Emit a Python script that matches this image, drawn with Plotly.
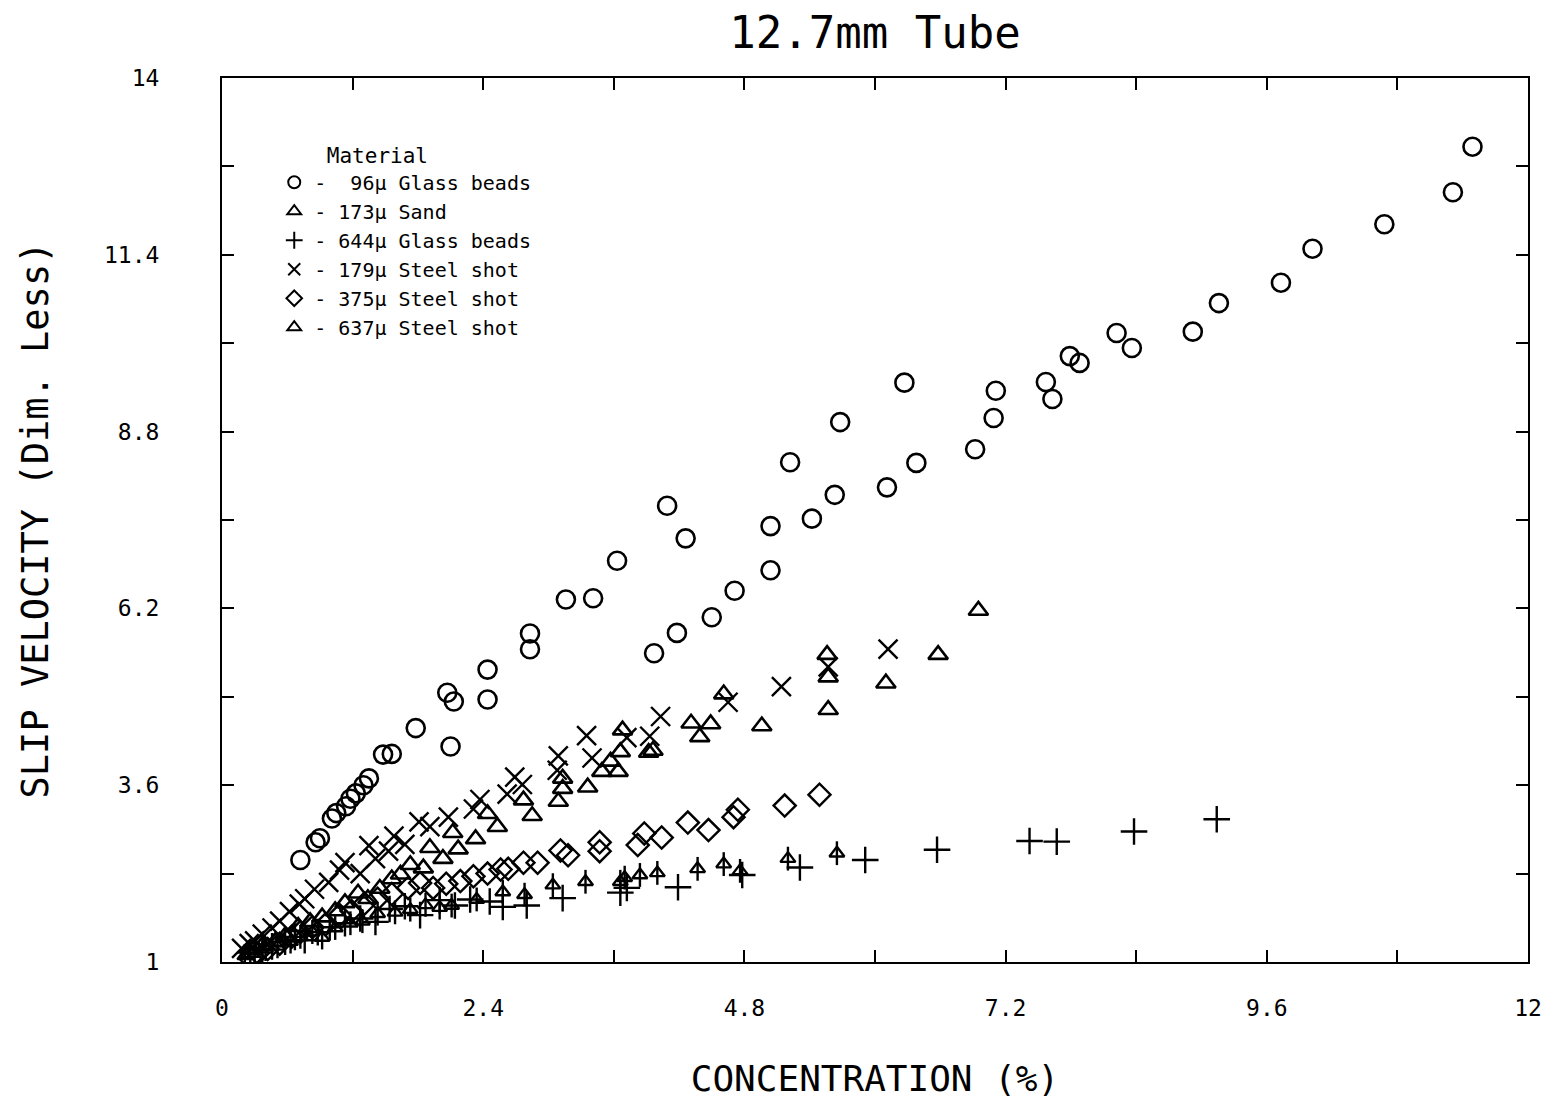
import plotly.graph_objects as go

# ---------------- data ----------------
# 96 micron glass beads (circles)
gb96_x = [0.72, 0.86, 0.90, 1.01, 1.05, 1.14, 1.18, 1.23, 1.30, 1.35, 1.48, 1.56, 1.78, 2.07, 2.13, 2.10,
          2.44, 2.44, 2.83, 2.83, 3.16, 3.41, 3.63, 4.09, 4.26, 3.97, 4.18, 4.50, 4.71, 5.04, 5.04, 5.22,
          5.42, 5.63, 5.68, 6.11, 6.27, 6.38, 6.92, 7.09, 7.11, 7.57, 7.63, 7.79, 7.88, 8.22, 8.36, 8.92,
          9.16, 9.73, 10.02, 10.68, 11.31, 11.49]
gb96_y = [2.50, 2.76, 2.82, 3.11, 3.19, 3.29, 3.40, 3.48, 3.60, 3.70, 4.05, 4.06, 4.44, 4.96, 4.83, 4.17,
          5.30, 4.86, 5.83, 5.60, 6.33, 6.35, 6.90, 7.71, 7.23, 5.54, 5.84, 6.07, 6.46, 6.76, 7.41, 8.35,
          7.52, 7.87, 8.94, 7.98, 9.52, 8.34, 8.54, 9.00, 9.40, 9.53, 9.28, 9.91, 9.81, 10.25, 10.03, 10.27,
          10.69, 10.99, 11.49, 11.85, 12.32, 12.99]

# 173 micron sand (triangles)
sand_x = [0.26, 0.37, 0.49, 0.58, 0.70, 0.81, 0.92, 1.04, 1.13, 1.25, 1.34, 1.45, 1.56, 1.64, 1.73, 1.85,
          1.91, 2.03, 2.12, 2.17, 2.33, 2.44, 2.53, 2.77, 2.85, 3.09, 3.13, 3.13, 3.36, 3.49, 3.57, 3.64,
          3.66, 3.68, 3.92, 3.96, 4.31, 4.39, 4.49, 4.61, 4.96, 5.56, 5.57, 5.57, 6.10, 6.58, 6.95]
sand_y = [1.14, 1.24, 1.30, 1.38, 1.52, 1.59, 1.66, 1.75, 1.87, 2.01, 1.93, 2.08, 2.22, 2.29, 2.43, 2.38,
          2.68, 2.52, 2.90, 2.66, 2.81, 3.18, 2.99, 3.38, 3.15, 3.36, 3.70, 3.55, 3.57, 3.80, 3.95, 3.80,
          4.09, 4.41, 4.08, 4.11, 4.51, 4.31, 4.50, 4.94, 4.47, 5.52, 5.19, 4.71, 5.10, 5.52, 6.17]

# 644 micron glass beads (plus)
gb644_x = [0.26, 0.37, 0.46, 0.58, 0.67, 0.76, 0.88, 0.99, 1.13, 1.27, 1.41, 1.54, 1.68, 1.82, 2.00, 2.14,
           2.28, 2.46, 2.58, 2.80, 3.13, 3.66, 3.72, 4.19, 4.78, 5.31, 5.91, 6.57, 7.42, 7.67, 8.38, 9.14]
gb644_y = [1.14, 1.19, 1.23, 1.30, 1.37, 1.32, 1.44, 1.51, 1.57, 1.64, 1.59, 1.78, 1.82, 1.69, 1.91, 1.83,
           1.92, 1.89, 1.81, 1.83, 1.94, 2.02, 2.09, 2.10, 2.28, 2.39, 2.50, 2.65, 2.78, 2.77, 2.92, 3.10]

# 179 micron steel shot (x)
ss179_x = [0.18, 0.25, 0.30, 0.37, 0.46, 0.53, 0.62, 0.71, 0.76, 0.85, 0.98, 1.08, 1.13, 1.27, 1.35, 1.41,
           1.53, 1.58, 1.68, 1.81, 1.91, 2.08, 2.31, 2.37, 2.62, 2.69, 2.76, 3.08, 3.09, 3.35, 3.40, 3.72,
           3.93, 4.03, 4.65, 5.14, 5.57, 6.12]
ss179_y = [1.20, 1.27, 1.31, 1.41, 1.50, 1.60, 1.74, 1.85, 1.93, 2.07, 2.17, 2.35, 2.46, 2.30, 2.71, 2.52,
           2.63, 2.85, 2.73, 3.06, 2.99, 3.13, 3.25, 3.39, 3.47, 3.72, 3.61, 3.82, 4.03, 4.33, 4.00, 4.30,
           4.32, 4.61, 4.82, 5.05, 5.34, 5.60]

# 375 micron steel shot (diamonds)
ss375_x = [0.26, 0.33, 0.42, 0.53, 0.64, 0.72, 0.83, 0.95, 1.08, 1.19, 1.31, 1.43, 1.56, 1.71, 1.82, 1.94,
           2.06, 2.19, 2.31, 2.44, 2.56, 2.63, 2.77, 2.90, 3.11, 3.18, 3.47, 3.47, 3.82, 3.88, 4.04, 4.28,
           4.47, 4.70, 4.74, 5.17, 5.49]
ss375_y = [1.05, 1.13, 1.19, 1.27, 1.37, 1.44, 1.51, 1.55, 1.69, 1.75, 1.86, 1.93, 2.00, 2.09, 2.16, 2.09,
           2.15, 2.19, 2.26, 2.30, 2.36, 2.37, 2.46, 2.46, 2.64, 2.57, 2.76, 2.63, 2.72, 2.89, 2.83, 3.05,
           2.94, 3.13, 3.24, 3.30, 3.46]

# 637 micron steel shot (arrow / umbrella)
ss637_x = [0.21, 0.30, 0.40, 0.51, 0.63, 0.72, 0.83, 0.92, 1.04, 1.18, 1.29, 1.43, 1.59, 1.73, 1.87, 2.00,
           2.11, 2.34, 2.58, 2.78, 3.04, 3.34, 3.66, 3.70, 3.84, 4.00, 4.37, 4.61, 4.76, 5.20, 5.65]
ss637_y = [1.09, 1.16, 1.19, 1.23, 1.30, 1.37, 1.44, 1.36, 1.50, 1.57, 1.60, 1.71, 1.73, 1.77, 1.84, 1.80,
           1.83, 1.92, 2.03, 1.99, 2.13, 2.18, 2.18, 2.24, 2.28, 2.31, 2.37, 2.44, 2.34, 2.52, 2.60]

legend_names = [
    "-\u00a0\u00a096\u00b5 Glass beads",
    "-\u00a0173\u00b5 Sand",
    "-\u00a0644\u00b5 Glass beads",
    "-\u00a0179\u00b5 Steel shot",
    "-\u00a0375\u00b5 Steel shot",
    "-\u00a0637\u00b5 Steel shot",
]

x_tick_vals = [0, 1.2, 2.4, 3.6, 4.8, 6.0, 7.2, 8.4, 9.6, 10.8, 12]
x_tick_text = ["0", "", "2.4", "", "4.8", "", "7.2", "", "9.6", "", "12"]
y_tick_vals = [1, 2.3, 3.6, 4.9, 6.2, 7.5, 8.8, 10.1, 11.4, 12.7, 14]
y_tick_text = ["1", "", "3.6", "", "6.2", "", "8.8", "", "11.4", "", "14"]

# ---------------- figure ----------------
MONO = "DejaVu Sans Mono"
INK = "black"

fig = go.Figure()

def add(xs, ys, name, symbol, size, lw, show=True, group=None):
    fig.add_trace(go.Scatter(
        x=xs, y=ys, mode="markers", name=name, showlegend=show,
        legendgroup=group or name,
        marker=dict(symbol=symbol, size=size, color=INK,
                    line=dict(color=INK, width=lw)),
    ))

add(gb96_x, gb96_y, legend_names[0], "circle-open", 18, 2.6)
add(sand_x, sand_y, legend_names[1], "triangle-up-open", 17, 2.6)
add(gb644_x, gb644_y, legend_names[2], "cross-thin-open", 19, 2.4)
add(ss179_x, ss179_y, legend_names[3], "x-thin-open", 19, 2.4)
add(ss375_x, ss375_y, legend_names[4], "diamond-open", 17, 2.4)
add(ss637_x, ss637_y, legend_names[5], "triangle-up-open", 13, 2.4, group="ss637")
add(ss637_x, ss637_y, "stem", "line-ns-open", 17, 2.4, show=False, group="ss637")

axis_common = dict(
    showline=True, linecolor=INK, linewidth=2, mirror="ticks",
    ticks="inside", ticklen=12, tickwidth=2, tickcolor=INK,
    showgrid=False, zeroline=False,
    tickfont=dict(family=MONO, size=23, color=INK),
    tickmode="array",
)

fig.update_layout(
    width=1558, height=1103,
    paper_bgcolor="white", plot_bgcolor="white",
    margin=dict(l=222, r=30, t=78, b=141, autoexpand=False),
    title=dict(text="12.7mm Tube", x=0.5, xanchor="center", xref="paper",
               y=0.97, yanchor="middle", yref="container",
               font=dict(family=MONO, size=44, color=INK)),
    xaxis=dict(range=[0, 12], tickvals=x_tick_vals, ticktext=x_tick_text,
               ticklabelstandoff=24,
               title=dict(text="CONCENTRATION (%)", standoff=46,
                          font=dict(family=MONO, size=36, color=INK)),
               **axis_common),
    yaxis=dict(range=[1, 14], tickvals=y_tick_vals, ticktext=y_tick_text,
               ticklabelstandoff=56,
               title=dict(text="SLIP VELOCITY (Dim. Less)", standoff=44,
                          font=dict(family=MONO, size=37, color=INK)),
               **axis_common),
    showlegend=True,
    legend=dict(
        x=0.04, y=0.935, xanchor="left", yanchor="top",
        bgcolor="rgba(0,0,0,0)", borderwidth=0,
        tracegroupgap=0,
        font=dict(family=MONO, size=20, color=INK),
        title=dict(text="\u00a0\u00a0\u00a0\u00a0Material", side="top",
                   font=dict(family=MONO, size=21, color=INK)),
        itemsizing="constant",
    ),
)

fig.write_html("out.html")
